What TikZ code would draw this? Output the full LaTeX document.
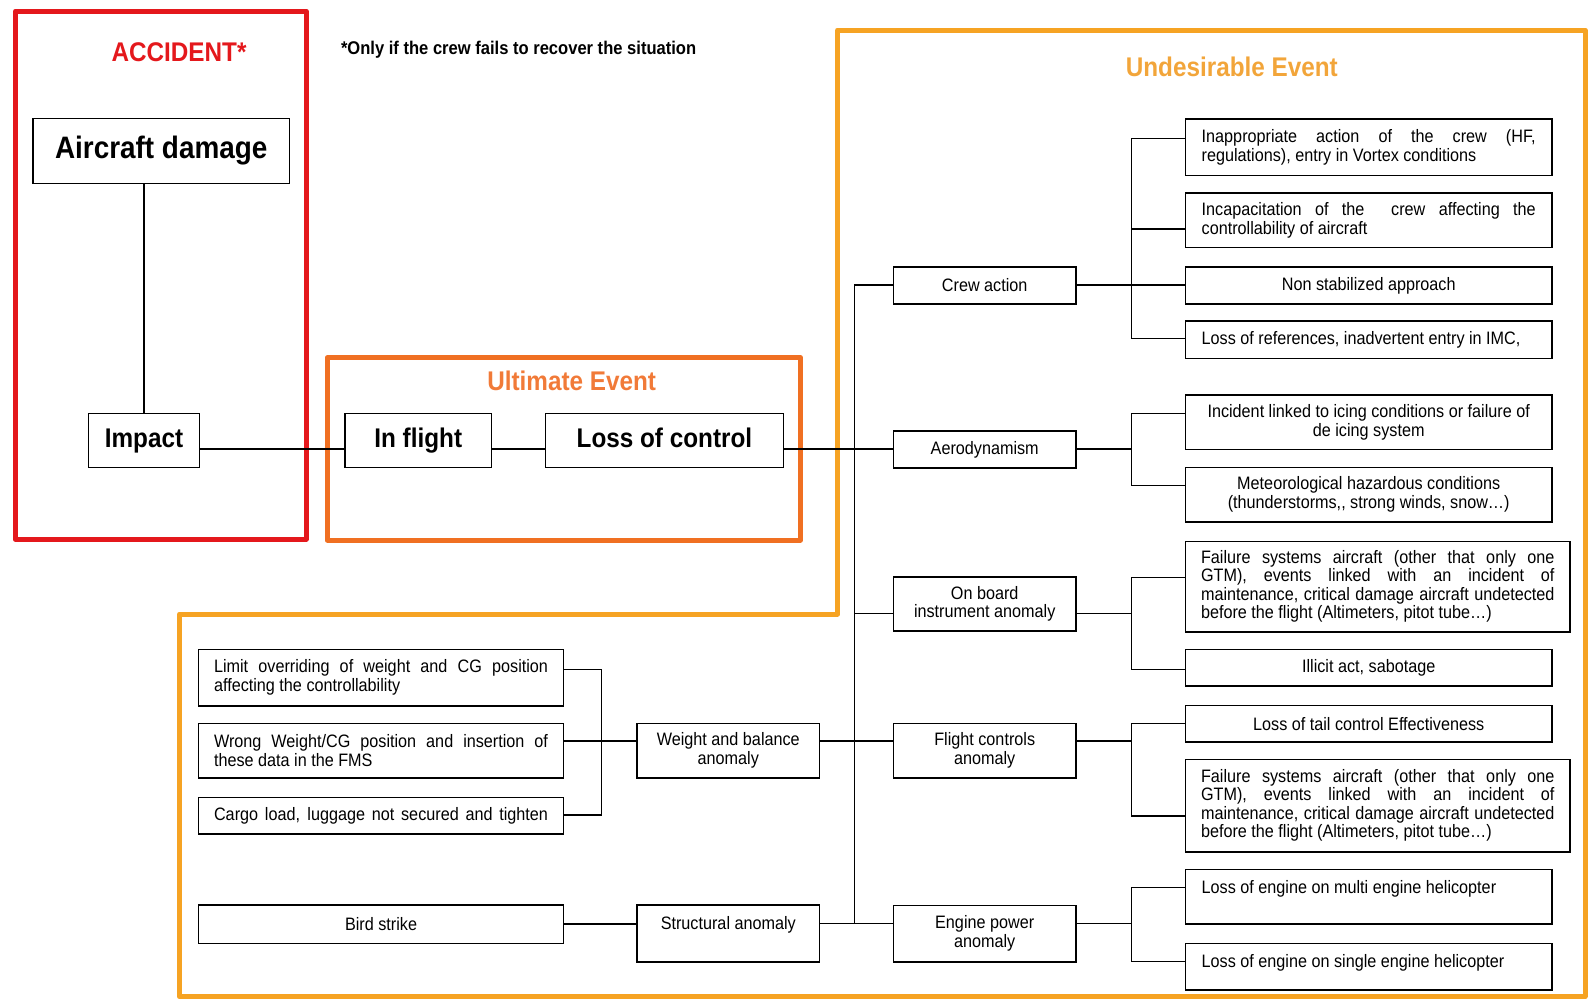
\documentclass[tikz,border=0pt]{standalone}
\usepackage{fontspec}
\setmainfont{Liberation Sans}
\newfontfamily\nfont[FakeStretch=0.9]{Liberation Sans}
\newcommand\boxfont{\nfont\fontsize{18}{18.4}\selectfont}
\newcommand\headfont{\nfont\bfseries\fontsize{27}{30}\selectfont}
\newcommand\damagefont{\nfont\bfseries\fontsize{31}{34}\selectfont}
\newcommand\notefont{\nfont\bfseries\fontsize{18.4}{20}\selectfont}
% a line whose inter-word spaces are stretched to the full paragraph width
\newcommand\jline[1]{\makebox[\linewidth][s]{#1}}

\definecolor{accred}{RGB}{228,24,28}
\definecolor{ultorange}{RGB}{240,112,34}
\definecolor{ulttext}{RGB}{241,122,56}
\definecolor{undamber}{RGB}{246,163,35}
\definecolor{undtext}{RGB}{242,165,58}

\tikzset{
  box/.style={draw, line width=1.6pt, inner sep=0pt, font=\boxfont},
  bigbox/.style={box, font=\headfont, text height=20pt, text depth=6pt},
  wire/.style={line width=1.5pt},
  frame/.style={line width=5pt, line join=round},
  title/.style={inner sep=0pt, anchor=base, font=\headfont},
}

\begin{document}
\begin{tikzpicture}[x=1pt, y=-1pt]
\useasboundingbox (0,0) rectangle (1589,1001);

% coloured frames
\draw[frame, accred] (15.3,11) rectangle (306,539.3);
\draw[frame, ultorange] (327.2,357.7) rectangle (800.4,540);
\draw[frame, undamber] (837.7,30) -- (1585,30) -- (1585,996.5) -- (179.3,996.5)
  -- (179.3,614) -- (837.7,614) -- cycle;

% titles and note
\node[title, text=accred] (tacc) at (179,61.4) {ACCIDENT*};
\node[title, text=ulttext] (tult) at (571.7,390.7) {Ultimate Event};
\node[title, text=undtext] (tund) at (1231.8,76.4) {Undesirable Event};
\node[inner sep=0pt, anchor=base west, font=\notefont] (note) at (340.8,54.2)
  {*Only if the crew fails to recover the situation};

% accident and ultimate event chain
\node[box, font=\damagefont, minimum width=256.1pt, minimum height=65pt, text height=23pt, text depth=7pt] (dmg) at (161.25,150.8) {Aircraft damage};
\node[bigbox, minimum width=111.2pt, minimum height=54pt] (imp) at (144,440.3) {Impact};
\node[bigbox, minimum width=146.1pt, minimum height=54pt] (fl) at (418.25,440.3) {In flight};
\node[bigbox, minimum width=238.2pt, minimum height=54pt] (loc) at (664.4,440.3) {Loss of control};

% middle column
\node[box, minimum width=182.2pt, minimum height=36.7pt] (crew) at (984.7,285.35) {Crew action};
\node[box, minimum width=182.2pt, minimum height=36.7pt] (aero) at (984.7,449.35) {Aerodynamism};
\node[box, align=center, minimum width=182.2pt, minimum height=54.3pt] (onb) at (984.7,603.85) {On board\\instrument anomaly};
\node[box, align=center, minimum width=182.2pt, minimum height=54.4pt] (flc) at (984.7,750.5) {Flight controls\\anomaly};
\node[box, align=center, minimum width=182.2pt, minimum height=56.4pt] (eng) at (984.7,933.5) {Engine power\\anomaly};
\node[box, align=center, minimum width=182.2pt, minimum height=54.4pt] (wb) at (728.3,750.5) {Weight and balance\\anomaly};
\node[box, minimum width=182.2pt, minimum height=56.7pt, text height=24.2pt, text depth=32.5pt] (struc) at (728.3,933.35) {Structural anomaly};

% left causes
\node[box, minimum width=364.9pt, minimum height=56.4pt] (lim) at (381.05,677.5)
  {\parbox{334pt}{\jline{Limit overriding of weight and CG position}\\affecting the controllability}};
\node[box, minimum width=364.9pt, minimum height=54.4pt] (wrong) at (381.05,750.5)
  {\parbox{334pt}{\jline{Wrong Weight/CG position and insertion of}\\these data in the FMS}};
\node[box, minimum width=364.9pt, minimum height=36.7pt] (cargo) at (381.05,815.65)
  {\makebox[334pt][s]{Cargo load, luggage not secured and tighten}};
\node[box, minimum width=364.9pt, minimum height=38.3pt] (bird) at (381.05,924.15) {Bird strike};

% right causes
\node[box, minimum width=366.4pt, minimum height=56.3pt] (inap) at (1368.7,147.15)
  {\parbox{334pt}{\jline{Inappropriate action of the crew (HF,}\\regulations), entry in Vortex conditions}};
\node[box, minimum width=366.4pt, minimum height=54.3pt] (incap) at (1368.7,220.15)
  {\parbox{334pt}{\jline{Incapacitation of the\ \ crew affecting the}\\controllability of aircraft}};
\node[box, minimum width=366.4pt, minimum height=36.7pt] (nonst) at (1368.7,285.35) {Non stabilized approach};
\node[box, minimum width=366.4pt, minimum height=37.3pt] (lref) at (1368.7,339.65)
  {\makebox[334pt][l]{Loss of references, inadvertent entry in IMC,}};
\node[box, align=center, minimum width=366.4pt, minimum height=54.3pt] (icing) at (1368.7,422.15)
  {Incident linked to icing conditions or failure of\\de icing system};
\node[box, align=center, minimum width=366.4pt, minimum height=54.4pt] (meteo) at (1368.7,494.5)
  {Meteorological hazardous conditions\\(thunderstorms,, strong winds, snow…)};
\node[box, minimum width=384.5pt, minimum height=90.4pt] (fail1) at (1377.75,586.5)
  {\parbox{353.5pt}{\jline{Failure systems aircraft (other that only one}\\\jline{GTM), events linked with an incident of}\\\jline{maintenance, critical damage aircraft undetected}\\before the flight (Altimeters, pitot tube…)}};
\node[box, minimum width=366.4pt, minimum height=36.7pt] (illicit) at (1368.7,667.65) {Illicit act, sabotage};
\node[box, minimum width=366.4pt, minimum height=36.7pt] (tail) at (1368.7,723.65) {Loss of tail control Effectiveness};
\node[box, minimum width=384.5pt, minimum height=92.4pt] (fail2) at (1377.75,805.5)
  {\parbox{353.5pt}{\jline{Failure systems aircraft (other that only one}\\\jline{GTM), events linked with an incident of}\\\jline{maintenance, critical damage aircraft undetected}\\before the flight (Altimeters, pitot tube…)}};
\node[box, minimum width=366.4pt, minimum height=54.7pt, text height=24.5pt, text depth=30.2pt] (multi) at (1368.7,896.65)
  {\makebox[334pt][l]{Loss of engine on multi engine helicopter}};
\node[box, minimum width=366.4pt, minimum height=46.7pt, text height=23.9pt, text depth=22.8pt] (single) at (1368.7,966.65)
  {\makebox[334pt][l]{Loss of engine on single engine helicopter}};

% junction points
\coordinate (sp) at (854.4,449);
\coordinate (tCrew) at (854.4,285);
\coordinate (tOnb) at (854.4,613.3);
\coordinate (tFlc) at (854.4,741);
\coordinate (tEng) at (854.4,923.3);
\coordinate (rInap) at (1131.7,138.3);
\coordinate (rIncap) at (1131.7,229);
\coordinate (rLref) at (1131.7,338.3);
\coordinate (rIcing) at (1131.7,413.3);
\coordinate (rMeteo) at (1131.7,485.3);
\coordinate (rFail1) at (1131.7,577.3);
\coordinate (rIllicit) at (1131.7,669.3);
\coordinate (rTail) at (1131.7,723.3);
\coordinate (rFail2) at (1131.7,816);
\coordinate (rMulti) at (1131.7,887.3);
\coordinate (rSingle) at (1131.7,961.7);
\coordinate (lLim) at (601.4,669.3);
\coordinate (lCargo) at (601.4,815);

% main chain
\draw[wire] (imp.north) -- (imp.north |- dmg.south);
\draw[wire] (imp.east |- sp) -- (fl.west |- sp);
\draw[wire] (fl.east |- sp) -- (loc.west |- sp);
\draw[wire] (loc.east |- sp) -- (aero.west |- sp);

% trunk to the middle column
\draw[wire] (crew.west |- tCrew) -- (tCrew) -- (tEng) -- (eng.west |- tEng);
\draw[wire] (tOnb) -- (onb.west |- tOnb);
\draw[wire] (wb.east |- tFlc) -- (flc.west |- tFlc);
\draw[wire] (struc.east |- tEng) -- (tEng);

% crew action branch
\draw[wire] (inap.west |- rInap) -- (rInap) -- (rLref) -- (lref.west |- rLref);
\draw[wire] (incap.west |- rIncap) -- (rIncap);
\draw[wire] (crew.east |- tCrew) -- (nonst.west |- tCrew);

% aerodynamism branch
\draw[wire] (icing.west |- rIcing) -- (rIcing) -- (rMeteo) -- (meteo.west |- rMeteo);
\draw[wire] (aero.east |- sp) -- (rIcing |- sp);

% on board instrument branch
\draw[wire] (fail1.west |- rFail1) -- (rFail1) -- (rIllicit) -- (illicit.west |- rIllicit);
\draw[wire] (onb.east |- tOnb) -- (rFail1 |- tOnb);

% flight controls branch
\draw[wire] (tail.west |- rTail) -- (rTail) -- (rFail2) -- (fail2.west |- rFail2);
\draw[wire] (flc.east |- tFlc) -- (rTail |- tFlc);

% engine power branch
\draw[wire] (multi.west |- rMulti) -- (rMulti) -- (rSingle) -- (single.west |- rSingle);
\draw[wire] (eng.east |- tEng) -- (rMulti |- tEng);

% weight and balance branch
\draw[wire] (lim.east |- lLim) -- (lLim) -- (lCargo) -- (cargo.east |- lCargo);
\draw[wire] (wrong.east |- tFlc) -- (wb.west |- tFlc);

% structural branch
\draw[wire] (bird.east) -- (bird.east -| struc.west);
\end{tikzpicture}
\end{document}
